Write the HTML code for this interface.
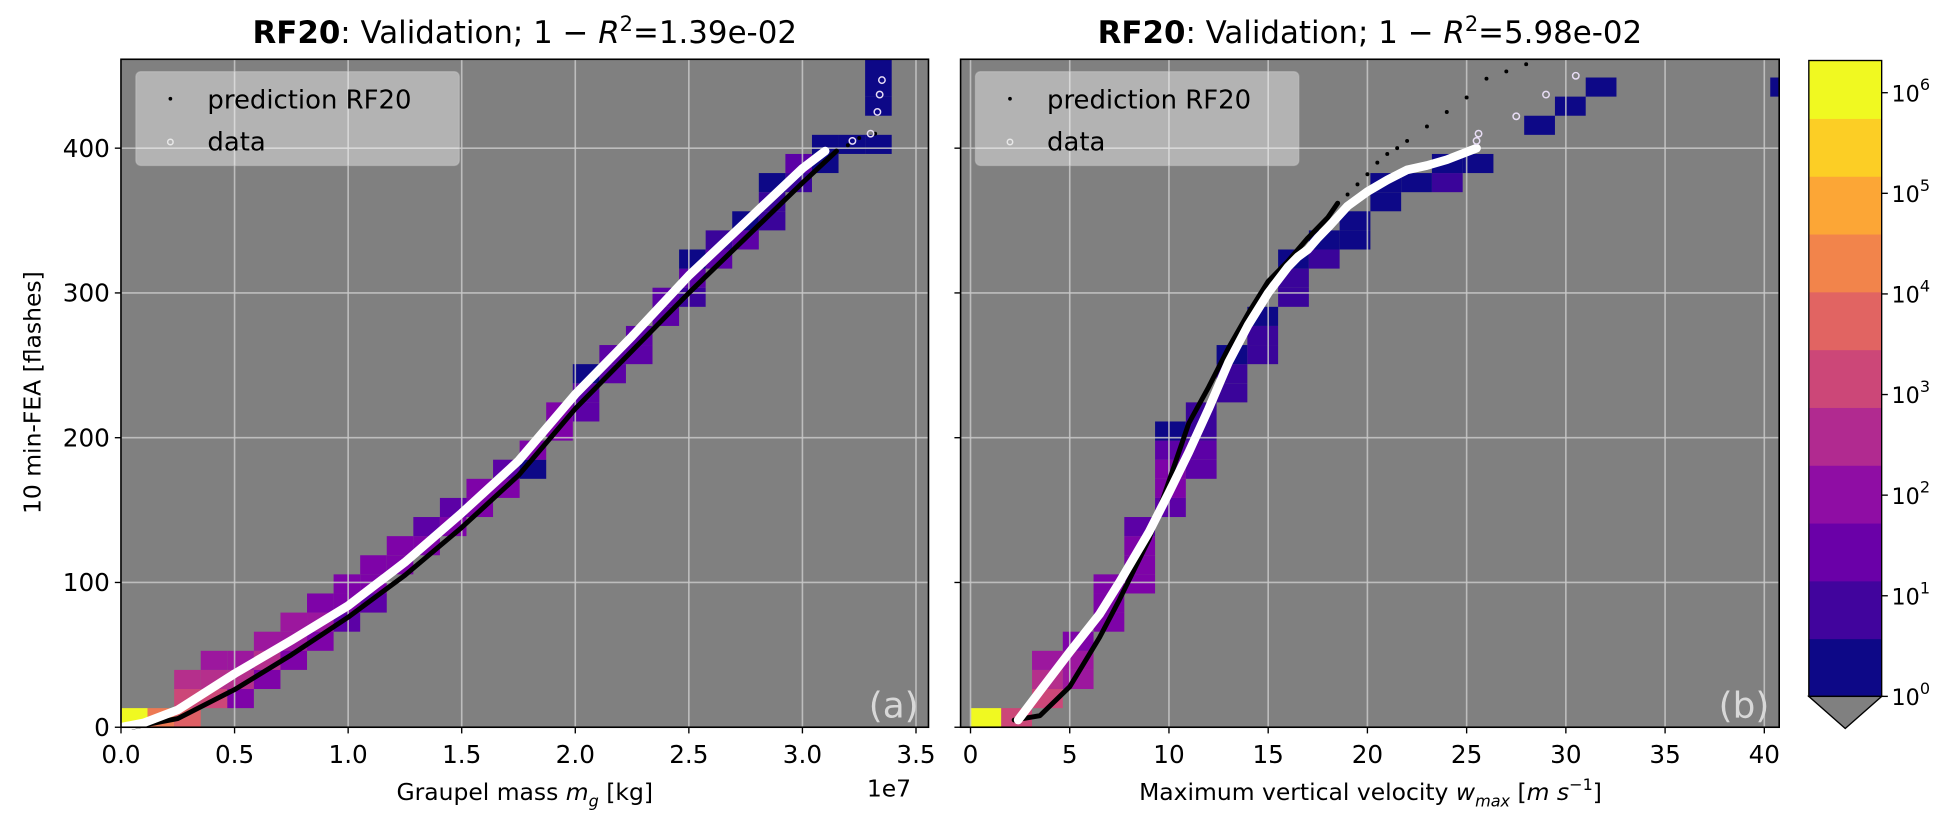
<!DOCTYPE html>
<html><head><meta charset="utf-8"><style>
body{margin:0;background:#fff;overflow:hidden;}
svg text{font-family:"DejaVu Sans","Liberation Sans",sans-serif;}
</style></head><body>
<svg id="fig" width="1936" height="828" viewBox="0 0 1568 670.6" xmlns="http://www.w3.org/2000/svg">
<g id="left"></g>
<g id="right"></g>
<g id="cbar"></g>
</svg>
<script>
// ---------- data ----------
const levelColors = ["#0d0887","#3a049a","#5c01a6","#7e03a8","#9c179e","#b52f8c","#cc4778","#de5f65","#ed7953","#f89540","#fdb42f","#fbd524","#f0f921"];
const cbarColors = ["#0d0887","#41049d","#6a00a8","#8f0da4","#b12a90","#cc4778","#e16462","#f2844b","#fca636","#fcce25","#f0f921"];
const cbarTicks = ["0","1","2","3","4","5","6"];
// Panel a heatmap cells: column, row, level
const aCellX = [0,1,2,2,2,3,3,3,4,4,4,5,5,5,6,6,6,7,7,7,8,8,8,9,9,9,10,10,11,11,12,12,13,13,14,14,15,15,16,16,17,17,17,18,18,19,19,20,20,21,21,21,22,22,23,23,24,24,24,25,25,26,26,27,28,28,28,28];
const aCellY = [0,0,0,1,2,1,2,3,2,3,1,3,4,2,4,5,3,5,6,4,6,7,5,7,8,6,8,9,9,10,10,11,11,12,12,13,13,14,15,16,16,17,18,18,19,19,20,21,22,22,23,24,24,25,25,26,26,27,28,28,29,29,30,30,30,32,33,34];
const aCellL = [12,8,7,6,5,6,5,4,5,4,3,5,4,3,4,4,3,4,3,3,3,3,2,3,3,2,3,3,3,2,3,2,3,3,3,2,0,3,3,3,2,2,0,2,2,2,2,2,2,1,2,0,2,1,2,0,1,1,0,1,2,0,0,0,0,0,0,0];
// Panel b heatmap cells
const bCellX = [0,1,2,2,2,3,3,3,4,4,4,5,5,5,5,6,6,6,6,6,7,7,7,7,8,8,8,9,9,9,10,10,10,11,11,12,12,13,13,14,15,15,16,18,19,20,26];
const bCellY = [0,0,1,2,3,2,3,4,5,6,7,7,8,9,10,11,12,13,14,15,13,14,15,16,17,18,19,19,20,21,22,23,24,24,25,25,26,27,28,28,28,29,29,31,32,33,33];
const bCellL = [12,6,6,5,4,4,4,3,3,3,3,3,3,3,2,2,3,3,2,0,2,2,1,1,1,1,0,1,1,0,1,1,0,1,0,0,0,0,0,0,1,0,0,0,0,0,0];
// Panel a series
const aDataX = [0,0.1,0.25,0.5,0.75,1.0,1.25,1.5,1.75,2.0,2.25,2.5,2.75,3.0,3.1];
const aDataY = [0,3,12,37,60,84,114,148,184,230,270,312,349,386,398];
const aSparseDataX = [3.22,3.3,3.33,3.34,3.35];
const aSparseDataY = [405,410,425,437,447];
const aPredX = [0.05,0.25,0.5,0.75,1.0,1.25,1.5,1.75,2.0,2.25,2.5,2.75,3.0,3.15];
const aPredY = [0,6,26,50,76,105,138,174,220,260,300,338,376,398];
const aSparsePredX = [3.2,3.25,3.32];
const aSparsePredY = [402,407,410];
// Panel b series
const bDataX = [2.4,3.5,5,6.5,7.5,9,10,11,12,13,14,15,16,16.5,17,17.5,18,19,20,21,22,23,24,25.5];
const bDataY = [5,25,52,78,100,135,162,190,220,252,278,300,318,325,330,338,345,360,370,378,385,388,392,400];
const bSparseDataX = [25.5,25.6,27.5,29,30.5,40.8];
const bSparseDataY = [405,410,422,437,450,462];
const bPredX = [2.2,3.5,5,6.5,7.5,9,10,11,12,13,14,15,16,17,18,18.5];
const bPredY = [5,8,28,62,88,130,170,210,235,262,286,308,322,338,352,362];
const bSparsePredX = [19,19.5,20,20.5,21,21.5,22,23,24,25,26,27,28];
const bSparsePredY = [368,375,382,390,396,400,405,415,425,435,448,453,458];

// ---------- helpers ----------
const NS="http://www.w3.org/2000/svg";
function mk(parent,tag,attrs,txt){const e=document.createElementNS(NS,tag);for(const k in attrs)e.setAttribute(k,attrs[k]);if(txt!==undefined)e.textContent=txt;parent.appendChild(e);return e;}

function panel(g,cfg){
  const {x0,x1,y0,y1,xmin,xmax,ymin,ymax}=cfg;
  const sx=v=>x0+(v-xmin)/(xmax-xmin)*(x1-x0);
  const sy=v=>y1-(v-ymin)/(ymax-ymin)*(y1-y0);
  const bg=mk(g,'rect',{x:x0,y:y0,width:x1-x0,height:y1-y0,fill:'#808080'});
  
  
  for(let i=0;i<cfg.cx.length;i++){
    const xa=sx(cfg.cx[i]*cfg.dx), xb=sx((cfg.cx[i]+1)*cfg.dx);
    const ya=sy((cfg.cy[i]+1)*cfg.dy), yb=sy(cfg.cy[i]*cfg.dy);
    const r=mk(g,'rect',{x:Math.max(xa,x0),y:Math.max(ya,y0),width:Math.min(xb,x1)-Math.max(xa,x0),height:yb-Math.max(ya,y0),fill:levelColors[cfg.cl[i]]});
    
    
  }
  cfg.xticks.forEach(t=>{const l=mk(g,'line',{x1:sx(t),x2:sx(t),y1:y0,y2:y1,stroke:'#c8c8c8','stroke-width':1.3,'stroke-opacity':0.85});
    });
  cfg.yticks.forEach(t=>{const l=mk(g,'line',{x1:x0,x2:x1,y1:sy(t),y2:sy(t),stroke:'#c8c8c8','stroke-width':1.3,'stroke-opacity':0.85});
    });
  const pts=(X,Y)=>X.map((v,i)=>sx(v)+','+sy(Y[i])).join(' ');
  const pl=mk(g,'polyline',{points:pts(cfg.pX,cfg.pY),fill:'none',stroke:'#000','stroke-width':4,'stroke-linejoin':'round','stroke-linecap':'round'});
  
  const dl=mk(g,'polyline',{points:pts(cfg.dX,cfg.dY),fill:'none',stroke:'#ffffff','stroke-width':7,'stroke-linejoin':'round','stroke-linecap':'round'});
  
  cfg.spX.forEach((v,i)=>{const c=mk(g,'circle',{cx:sx(v),cy:sy(cfg.spY[i]),r:1.6,fill:'#000'});
    });
  cfg.sdX.forEach((v,i)=>{if(sy(cfg.sdY[i])<y0+2)return;const c=mk(g,'circle',{cx:sx(v),cy:sy(cfg.sdY[i]),r:2.6,fill:'none',stroke:'#e8ddf5','stroke-width':1.2});
    });
  const f=mk(g,'rect',{x:x0,y:y0,width:x1-x0,height:y1-y0,fill:'none',stroke:'#000','stroke-width':1.3});
  
  cfg.xticks.forEach((t,i)=>{mk(g,'line',{x1:sx(t),x2:sx(t),y1:y1,y2:y1+5,stroke:'#000','stroke-width':1.1});
    const tx=mk(g,'text',{x:sx(t),y:y1+29,'font-size':20,'text-anchor':'middle',fill:'#000'},cfg.xlabels[i]);
    });
  cfg.yticks.forEach((t,i)=>{mk(g,'line',{x1:x0-5,x2:x0,y1:sy(t),y2:sy(t),stroke:'#000','stroke-width':1.1});
    if(cfg.ylabels){const tx=mk(g,'text',{x:x0-9,y:sy(t)+7,'font-size':20,'text-anchor':'end',fill:'#000'},cfg.ylabels[i]);
    }});
  const lg=mk(g,'g',{});
  
  mk(lg,'rect',{x:x0+12,y:y0+10,width:262,height:76,rx:4,fill:'#ffffff','fill-opacity':0.4,stroke:'#cccccc','stroke-opacity':0.4});
  mk(lg,'circle',{cx:x0+40,cy:y0+32,r:1.5,fill:'#000'});
  const t1=mk(lg,'text',{x:x0+70,y:y0+40,'font-size':21,fill:'#000'},'prediction RF20');
  
  mk(lg,'circle',{cx:x0+40,cy:y0+67,r:2.2,fill:'none',stroke:'#e8e8e8','stroke-width':1.2});
  const t2=mk(lg,'text',{x:x0+70,y:y0+74,'font-size':21,fill:'#000'},'data');
  
  const pl2=mk(g,'text',{x:x1-8,y:y1-8,'font-size':29,'text-anchor':'end',fill:'#d8d8d8'},cfg.letter);
  
  const ti=mk(g,'text',{x:(x0+x1)/2,y:y0-13,'font-size':25,'text-anchor':'middle',fill:'#000'});
  
  mk(ti,'tspan',{'font-weight':'bold'},'RF20');
  mk(ti,'tspan',{},': Validation; 1 − ');
  mk(ti,'tspan',{'font-style':'italic'},'R');
  mk(ti,'tspan',{dy:-10,'font-size':17},'2');
  mk(ti,'tspan',{dy:10},'='+cfg.r2);
  return {sx,sy};
}

const L=document.getElementById('left');
panel(L,{x0:98,x1:752,y0:48,y1:589,xmin:0,xmax:3.555,ymin:0,ymax:461.4,
  cx:aCellX,cy:aCellY,cl:aCellL,dx:0.117,dy:13.2,
  dX:aDataX,dY:aDataY,pX:aPredX,pY:aPredY,sdX:aSparseDataX,sdY:aSparseDataY,spX:aSparsePredX,spY:aSparsePredY,
  xticks:[0,0.5,1,1.5,2,2.5,3,3.5],xlabels:["0.0","0.5","1.0","1.5","2.0","2.5","3.0","3.5"],
  yticks:[0,100,200,300,400],ylabels:["0","100","200","300","400"],letter:'(a)',r2:'1.39e-02'});
const R=document.getElementById('right');
panel(R,{x0:778,x1:1441,y0:48,y1:589,xmin:-0.5,xmax:40.75,ymin:0,ymax:461.4,
  cx:bCellX,cy:bCellY,cl:bCellL,dx:1.55,dy:13.2,
  dX:bDataX,dY:bDataY,pX:bPredX,pY:bPredY,sdX:bSparseDataX,sdY:bSparseDataY,spX:bSparsePredX,spY:bSparsePredY,
  xticks:[0,5,10,15,20,25,30,35,40],xlabels:["0","5","10","15","20","25","30","35","40"],
  yticks:[0,100,200,300,400],ylabels:null,letter:'(b)',r2:'5.98e-02'});

const fig=document.getElementById('fig');
function label(x,y,txt,attrs,name){const t=mk(fig,'text',Object.assign({x:x,y:y,'font-size':19,'text-anchor':'middle',fill:'#000'},attrs||{}));t.innerHTML=txt;
  return t;}
label(425,648,'Graupel mass <tspan font-style="italic">m</tspan><tspan font-style="italic" font-size="13" dy="5">g</tspan><tspan dy="-5"> [kg]</tspan>',{},'x-axis-title-a');
label(720,645,'1e7',{'font-size':19},'x-offset-label');
label(1110,648,'Maximum vertical velocity <tspan font-style="italic">w</tspan><tspan font-style="italic" font-size="13" dy="5">max</tspan><tspan dy="-5"> [</tspan><tspan font-style="italic">m s</tspan><tspan font-size="13" dy="-8">−1</tspan><tspan dy="8">]</tspan>',{},'x-axis-title-b');
label(0,0,'10 min-FEA [flashes]',{transform:'translate(33,318) rotate(-90)'},'y-axis-title');

// colorbar
const C=document.getElementById('cbar');
const cx0=1465,cx1=1524,cyTop=49,cyBot=564;
const band=(cyBot-cyTop)/cbarColors.length;
cbarColors.forEach((c,i)=>{const r=mk(C,'rect',{x:cx0,y:cyBot-(i+1)*band,width:cx1-cx0,height:band+0.5,fill:c});
  });
const tri=mk(C,'polygon',{points:`${cx0},${cyBot} ${cx1},${cyBot} ${(cx0+cx1)/2},590`,fill:'#808080',stroke:'#000','stroke-width':1.1});

mk(C,'rect',{x:cx0,y:cyTop,width:cx1-cx0,height:cyBot-cyTop,fill:'none',stroke:'#000','stroke-width':1.1});
const decade=(cyBot-cyTop)/6.32;
cbarTicks.forEach((t,i)=>{const y=cyBot-i*decade;
  mk(C,'line',{x1:cx1,x2:cx1+5,y1:y,y2:y,stroke:'#000','stroke-width':1.1});
  const tx=mk(C,'text',{x:cx1+8,y:y+7,'font-size':18,fill:'#000'});
  
  mk(tx,'tspan',{},'10');mk(tx,'tspan',{dy:-9,'font-size':13},t);});
</script>
</body></html>
